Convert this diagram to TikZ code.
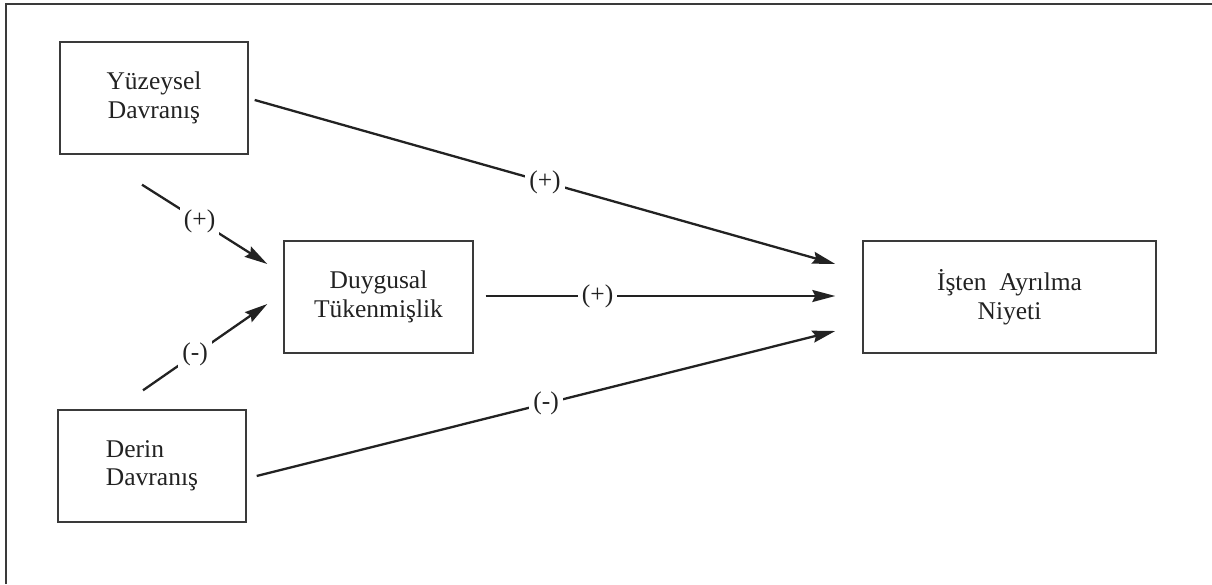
\documentclass[tikz,border=0pt]{standalone}
\usepackage{fontspec}
\setmainfont{Liberation Serif}
\usetikzlibrary{arrows.meta,calc}
\definecolor{ink}{HTML}{222222}
\definecolor{frame}{HTML}{3A3A3A}
\tikzset{
  box/.style={draw=frame, line width=1.4pt, minimum height=112pt, align=center, text=ink,
    font=\fontsize{25.5}{28.5}\selectfont, inner sep=0pt},
  arr/.style={draw=ink, line width=2.3pt, -{Stealth[length=23pt,width=12pt,inset=3pt]}},
  lbl/.style={fill=white, text=ink, inner sep=4pt, font=\fontsize{25.5}{28}\selectfont}
}
\begin{document}
\begin{tikzpicture}[x=1pt,y=-1pt]
\useasboundingbox (0,0) rectangle (1212,584);
\draw[frame, line width=1.8pt] (6,584) -- (6,4) -- (1212,4);
\node[box, minimum width=188pt] (ys) at (154,98) {Yüzeysel\\Davranış};
\node[box, minimum width=188pt, align=left] (dr) at (152,466) {Derin\\Davranış};
\node[box, minimum width=189pt] (du) at (378.5,297) {Duygusal\\Tükenmişlik};
\node[box, minimum width=293pt] (is) at (1009.5,297) {İşten\hspace{0.25em} Ayrılma\\Niyeti};
\coordinate (a1) at ($(ys.east)+(6,2)$);
\coordinate (b1) at ($(is.west)+(-27,-33)$);
\coordinate (a2) at ($(du.east)+(12,-1)$);
\coordinate (b2) at ($(is.west)+(-27,-1)$);
\coordinate (a3) at ($(dr.east)+(10,10)$);
\coordinate (b3) at ($(is.west)+(-27,34)$);
\coordinate (a4) at ($(ys.south)+(-12,30)$);
\coordinate (b4) at ($(du.west)+(-16,-33)$);
\coordinate (a5) at ($(dr.north)+(-9,-19)$);
\coordinate (b5) at ($(du.west)+(-16,7)$);
\draw[arr] (a1) -- node[lbl, pos=0.5] (l1) {(+)} (b1);
\draw[arr] (a2) -- node[lbl, pos=0.32] (l2) {(+)} (b2);
\draw[arr] (a3) -- node[lbl, pos=0.5] (l3) {(-)} (b3);
\draw[arr] (a4) -- node[lbl, pos=0.46] (l4) {(+)} (b4);
\draw[arr] (a5) -- node[lbl, pos=0.42] (l5) {(-)} (b5);
\end{tikzpicture}
\end{document}
